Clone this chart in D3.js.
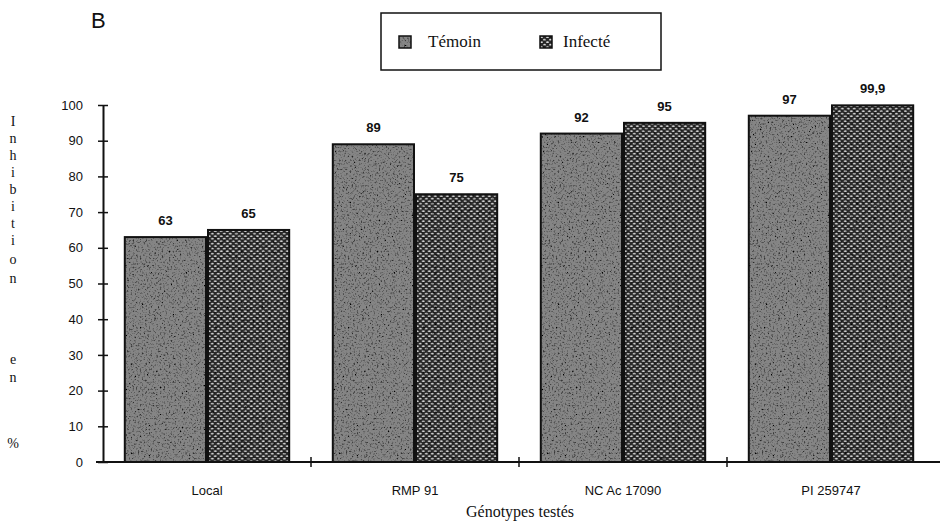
<!DOCTYPE html>
<html><head><meta charset="utf-8">
<script src="https://cdn.jsdelivr.net/npm/d3@7"></script>
<style>body{margin:0;background:#fff}svg{display:block}</style>
</head><body><svg id="c" width="940" height="527"></svg>
<script>
const categories = ["Local", "RMP 91", "NC Ac 17090", "PI 259747"];
const seriesNames = ["Témoin", "Infecté"];
const temoin = [63, 89, 92, 97];
const infecte = [65, 75, 95, 99.9];
const valueLabels = [["63","65"],["89","75"],["92","95"],["97","99,9"]];
const yTicks = [0,10,20,30,40,50,60,70,80,90,100];
const yTitleChars = ["I","n","h","i","b","i","t","i","o","n","","e","n","","%"];

const svg = d3.select("#c");
const defs = svg.append("defs");

// noise texture for Témoin
const f1 = defs.append("filter").attr("id","noiseA").attr("x",0).attr("y",0).attr("width","100%").attr("height","100%");
f1.append("feTurbulence").attr("type","fractalNoise").attr("baseFrequency","0.55").attr("numOctaves",2).attr("seed",3).attr("result","t");
f1.append("feColorMatrix").attr("in","t").attr("type","matrix")
  .attr("values","0 0 0 0 0  0 0 0 0 0  0 0 0 0 0  0 0 0 -3.2 1.55").attr("result","n");
f1.append("feComposite").attr("in","n").attr("in2","SourceGraphic").attr("operator","in").attr("result","m");
f1.append("feMerge").selectAll("feMergeNode").data(["SourceGraphic","m"]).join("feMergeNode").attr("in",d=>d);

// dotted texture for Infecté
const p2 = defs.append("pattern").attr("id","dots").attr("patternUnits","userSpaceOnUse").attr("width",6).attr("height",5);
p2.append("rect").attr("width",6).attr("height",5).attr("fill","#2a2a2a");
p2.append("ellipse").attr("cx",1.5).attr("cy",1.2).attr("rx",1.4).attr("ry",0.9).attr("fill","#d8d8d8");
p2.append("ellipse").attr("cx",4.5).attr("cy",3.7).attr("rx",1.4).attr("ry",0.9).attr("fill","#d8d8d8");
const f2 = defs.append("filter").attr("id","noiseB").attr("x",0).attr("y",0).attr("width","100%").attr("height","100%");
f2.append("feTurbulence").attr("type","fractalNoise").attr("baseFrequency","0.35").attr("numOctaves",2).attr("seed",7).attr("result","t");
f2.append("feColorMatrix").attr("in","t").attr("type","matrix")
  .attr("values","0 0 0 0 0  0 0 0 0 0  0 0 0 0 0  0 0 0 -2.4 1.2").attr("result","n");
f2.append("feComposite").attr("in","n").attr("in2","SourceGraphic").attr("operator","in").attr("result","m");
f2.append("feMerge").selectAll("feMergeNode").data(["SourceGraphic","m"]).join("feMergeNode").attr("in",d=>d);

const x0 = d3.scaleBand().domain(categories).range([103, 935]).paddingInner(0.2).paddingOuter(0.1);
const x1 = d3.scaleBand().domain(seriesNames).range([0, x0.bandwidth()]).padding(0);
const y = d3.scaleLinear().domain([0,100]).range([462,105]);

const fills = {"Témoin":"#858585","Infecté":"url(#dots)"};
const filt = {"Témoin":"url(#noiseA)","Infecté":"url(#noiseB)"};

const rows = categories.map((c,i)=>({cat:c, vals:[{s:"Témoin",v:temoin[i],l:valueLabels[i][0]},{s:"Infecté",v:infecte[i],l:valueLabels[i][1]}]}));

const g = svg.append("g");
const grp = g.selectAll("g.cat").data(rows).join("g").attr("transform",d=>`translate(${x0(d.cat)},0)`);
grp.selectAll("rect").data(d=>d.vals).join("rect")
  .attr("x",d=>x1(d.s)+1).attr("y",d=>y(d.v))
  .attr("width",x1.bandwidth()-2).attr("height",d=>y(0)-y(d.v))
  .attr("fill",d=>fills[d.s]).attr("filter",d=>filt[d.s]);
grp.selectAll("rect.o").data(d=>d.vals).join("rect").attr("class","o")
  .attr("x",d=>x1(d.s)+1).attr("y",d=>y(d.v))
  .attr("width",x1.bandwidth()-2).attr("height",d=>y(0)-y(d.v))
  .attr("fill","none").attr("stroke","#111").attr("stroke-width",2);
grp.selectAll("text").data(d=>d.vals).join("text")
  .attr("x",d=>x1(d.s)+x1.bandwidth()/2).attr("y",d=>y(d.v)-12)
  .attr("text-anchor","middle").attr("font-family","Liberation Sans, Arial, sans-serif")
  .attr("font-size",13).attr("font-weight","bold").attr("fill","#111").text(d=>d.l);

// y axis
const ya = svg.append("g").attr("transform","translate(103,0)")
  .call(d3.axisLeft(y).tickValues(yTicks).tickSizeInner(6).tickSizeOuter(0).tickPadding(14));
ya.select(".domain").attr("stroke","#111").attr("stroke-width",2);
ya.selectAll(".tick line").attr("x2",5).attr("x1",-5).attr("stroke","#111").attr("stroke-width",1.5);
ya.selectAll("text").attr("font-family","Liberation Sans, Arial, sans-serif").attr("font-size",13).attr("fill","#111");

// x axis
const xa = svg.append("g").attr("transform","translate(0,462)")
  .call(d3.axisBottom(x0).tickSize(0).tickPadding(24));
xa.select(".domain").attr("d","M96,0H940").attr("stroke","#111").attr("stroke-width",2);
xa.selectAll("text").attr("font-family","Liberation Sans Narrow, Arial Narrow, sans-serif").attr("font-size",13).attr("fill","#111");
const seps = categories.slice(1).map(c=>x0(c)-x0.step()*x0.paddingInner()/2);
xa.selectAll("line.sep").data(seps).join("line").attr("class","sep")
  .attr("x1",d=>d).attr("x2",d=>d).attr("y1",-5).attr("y2",5).attr("stroke","#111").attr("stroke-width",1.5);

// axis titles
svg.append("text").attr("x",520).attr("y",517).attr("text-anchor","middle")
  .attr("font-family","Liberation Serif, Times New Roman, serif").attr("font-size",16).attr("fill","#111").text("Génotypes testés");
const yt = svg.append("text").attr("font-family","Liberation Serif, Times New Roman, serif").attr("font-size",14).attr("fill","#111");
const ys = [126,143,160,177,194,211,228,245,264,283,null,364,382,null,448];
yTitleChars.forEach((ch,i)=>{ if(ch) yt.append("tspan").attr("x",13).attr("y",ys[i]).attr("text-anchor","middle").text(ch); });

// panel letter
svg.append("text").attr("x",91).attr("y",28).attr("font-family","Liberation Sans, Arial, sans-serif").attr("font-size",22).attr("fill","#111").text("B");

// legend
const lg = svg.append("g");
lg.append("rect").attr("x",381).attr("y",13).attr("width",280).attr("height",57).attr("fill","#fff").attr("stroke","#111").attr("stroke-width",1.5);
const li = lg.selectAll("g").data(seriesNames).join("g").attr("transform",(d,i)=>`translate(${i?540:399},36)`);
li.append("rect").attr("width",12).attr("height",12).attr("fill",d=>fills[d]).attr("filter",d=>filt[d]);
li.append("rect").attr("width",12).attr("height",12).attr("fill","none").attr("stroke","#111").attr("stroke-width",1.5);
li.append("text").attr("x",d=>d==="Témoin"?29:23).attr("y",11).attr("font-family","Liberation Serif, Times New Roman, serif").attr("font-size",17).attr("fill","#111").text(d=>d);
</script></body></html>
